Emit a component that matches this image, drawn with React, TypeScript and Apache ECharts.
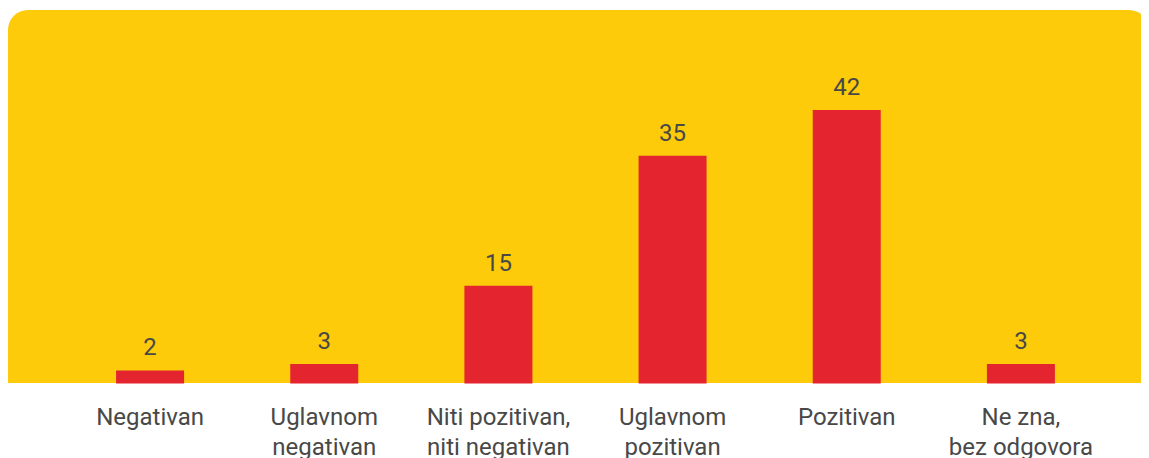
import React, { useEffect, useRef } from "react";
import * as echarts from "echarts";

const categories = [
  "Negativan",
  "Uglavnom\nnegativan",
  "Niti pozitivan,\nniti negativan",
  "Uglavnom\npozitivan",
  "Pozitivan",
  "Ne zna,\nbez odgovora",
];
const values = [2, 3, 15, 35, 42, 3];

const YELLOW = "#FDCB0A";
const RED = "#E4252F";
const TEXT = "#484848";

export default function App() {
  const ref = useRef<HTMLDivElement>(null);
  useEffect(() => {
    if (!ref.current) return;
    const chart = echarts.init(ref.current, undefined, { renderer: "svg" });
    chart.setOption({
      animation: false,
      graphic: [
        {
          type: "rect",
          left: 0,
          top: 2,
          z: -10,
          shape: { width: 1141, height: 373, r: [20, 20, 0, 0] },
          style: { fill: YELLOW },
        },
      ],
      grid: {
        left: 55,
        right: 41,
        top: 50,
        bottom: 74.5,
        containLabel: false,
        outerBoundsMode: "none",
      },
      xAxis: {
        type: "category",
        data: categories,
        axisLine: { show: false },
        axisTick: { show: false },
        axisLabel: {
          margin: 18,
          fontFamily: "Roboto",
          fontSize: 24,
          lineHeight: 30,
          color: TEXT,
          interval: 0,
          hideOverlap: false,
        },
      },
      yAxis: {
        type: "value",
        min: 0,
        max: 50,
        show: false,
        splitLine: { show: false },
      },
      series: [
        {
          type: "bar",
          data: values,
          barWidth: 68,
          itemStyle: { color: RED },
          label: {
            show: true,
            position: "top",
            distance: 11,
            fontFamily: "Roboto",
            fontSize: 24,
            color: TEXT,
          },
        },
      ],
    });
    return () => chart.dispose();
  }, []);
  return <div ref={ref} style={{ width: 1141, height: 450 }} />;
}
